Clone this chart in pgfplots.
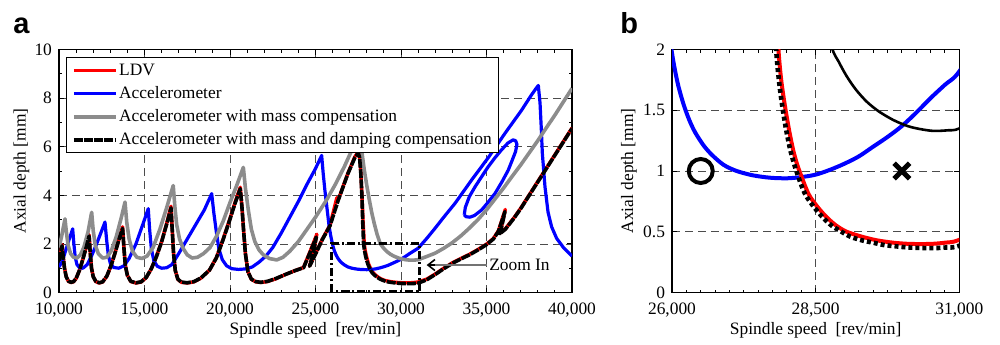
\documentclass[border=0pt]{standalone}
\usepackage{fontspec}
\setmainfont{Liberation Serif}
\newfontfamily\panelfont{Liberation Sans}
\usepackage{pgfplots}
\pgfplotsset{compat=1.18}
\usepackage{pgfplotstable}
\usetikzlibrary{arrows.meta}

\definecolor{cRed}{RGB}{255,0,0}
\definecolor{cBlue}{RGB}{0,0,255}
\definecolor{cGray}{RGB}{140,140,140}
\newcommand{\fs}{\fontsize{8.7}{10.4}\selectfont}

% Accelerometer with mass and damping compensation
\pgfplotstableread{
x y
10000 1.30
10080 1.60
10180 1.92
10240 1.50
10320 1.00
10420 0.65
10550 0.47
10700 0.42
10850 0.45
11000 0.58
11200 0.92
11400 1.38
11600 1.88
11760 2.32
11830 1.60
11900 1.00
12000 0.65
12150 0.46
12350 0.40
12550 0.44
12800 0.68
13050 1.12
13300 1.68
13550 2.28
13720 2.64
13800 1.80
13880 1.10
14000 0.70
14200 0.46
14500 0.40
14800 0.44
15100 0.62
15400 0.98
15700 1.48
16000 2.08
16300 2.82
16550 3.48
16620 2.60
16700 1.60
16800 0.90
16950 0.55
17150 0.43
17500 0.40
17900 0.45
18300 0.60
18800 0.92
19200 1.42
19600 2.18
20000 3.02
20300 3.68
20600 4.27
20700 3.50
20800 2.50
20900 1.60
21050 0.85
21250 0.55
21500 0.45
21800 0.42
22200 0.46
22700 0.58
23200 0.73
23800 0.90
24300 1.02
24700 1.68
25050 2.28
24850 1.55
24650 1.08
25000 1.58
25400 2.18
25850 2.75
26330 3.80
26900 4.90
27300 5.55
27500 5.74
27580 5.55
27650 4.90
27720 3.90
27760 2.90
27790 2.40
27810 2.02
27860 1.75
27920 1.53
27990 1.33
28060 1.17
28130 1.05
28200 0.95
28270 0.86
28340 0.79
28460 0.71
28620 0.62
28780 0.55
28950 0.50
29100 0.46
29300 0.43
29500 0.41
29700 0.39
29900 0.38
30140 0.37
30500 0.365
30750 0.37
31000 0.385
31500 0.52
32000 0.74
32500 0.98
33000 1.20
33500 1.38
34000 1.55
34500 1.75
35000 1.97
35400 2.20
35700 2.52
36080 3.33
35850 2.60
35780 2.42
36100 2.60
36600 3.05
37000 3.45
37500 4.00
38000 4.55
38500 5.10
39000 5.65
39500 6.20
40000 6.75
}\tblBlack

% LDV
\pgfplotstableread{
x y
10000 1.32
10080 1.62
10180 1.97
10240 1.52
10320 1.02
10420 0.66
10550 0.46
10700 0.41
10850 0.44
11000 0.57
11200 0.92
11400 1.38
11600 1.90
11760 2.38
11830 1.62
11900 1.02
12000 0.66
12150 0.45
12350 0.39
12550 0.43
12800 0.67
13050 1.12
13300 1.69
13550 2.30
13720 2.70
13800 1.82
13880 1.12
14000 0.71
14200 0.45
14500 0.39
14800 0.43
15100 0.61
15400 0.98
15700 1.49
16000 2.10
16300 2.85
16550 3.55
16620 2.62
16700 1.62
16800 0.91
16950 0.54
17150 0.42
17500 0.39
17900 0.44
18300 0.59
18800 0.92
19200 1.43
19600 2.20
20000 3.05
20300 3.72
20600 4.33
20700 3.52
20800 2.52
20900 1.62
21050 0.86
21250 0.54
21500 0.44
21800 0.41
22200 0.45
22700 0.57
23200 0.73
23800 0.90
24300 1.03
24700 1.72
25080 2.40
24850 1.57
24650 1.09
25000 1.60
25400 2.20
25850 2.78
26250 3.90
26330 3.82
26900 4.92
27300 5.58
27500 5.79
27580 5.60
27650 4.95
27720 3.95
27780 2.95
27820 2.45
27850 2.02
27900 1.75
27967 1.53
28040 1.33
28110 1.17
28180 1.05
28257 0.95
28330 0.86
28400 0.79
28540 0.70
28690 0.62
28860 0.55
29040 0.50
29300 0.46
29560 0.43
29850 0.41
30140 0.40
30500 0.40
30750 0.41
30980 0.43
31500 0.55
32000 0.76
32500 1.00
33000 1.22
33500 1.40
34000 1.57
34500 1.77
35000 1.99
35400 2.22
35700 2.55
36100 3.42
35850 2.62
35780 2.44
36100 2.62
36600 3.07
37000 3.47
37500 4.02
38000 4.57
38500 5.12
39000 5.67
39500 6.22
40000 6.77
}\tblRed

% Accelerometer
\pgfplotstableread{
x y
10000 1.05
10200 1.30
10400 1.75
10600 2.20
10800 2.62
10870 2.00
10950 1.45
11050 1.15
11200 1.02
11400 1.00
11650 1.15
11900 1.50
12200 2.00
12500 2.55
12690 2.90
12780 2.20
12880 1.55
13000 1.20
13200 1.03
13500 1.00
13800 1.10
14100 1.40
14500 2.00
14900 2.80
15220 3.45
15300 2.60
15400 1.80
15550 1.30
15750 1.08
16000 1.00
16300 1.02
16600 1.15
17000 1.60
17500 2.20
18000 2.80
18500 3.40
18930 4.07
19050 3.30
19200 2.50
19350 1.80
19550 1.35
19800 1.10
20100 0.98
20500 0.95
20900 0.97
21300 1.05
21700 1.25
22100 1.50
22500 1.85
23000 2.45
23500 3.10
24000 3.75
24500 4.45
25000 5.10
25360 5.64
25450 4.90
25550 4.20
25650 3.60
25800 2.70
25900 2.30
26010 1.94
26100 1.72
26200 1.55
26300 1.42
26400 1.32
26550 1.21
26700 1.13
26900 1.05
27125 1.00
27400 0.965
27700 0.945
28000 0.94
28250 0.95
28500 0.97
28750 1.01
29000 1.06
29250 1.12
29500 1.20
29750 1.28
30000 1.37
30250 1.48
30500 1.60
30750 1.71
31000 1.82
31500 2.22
32000 2.65
32500 3.10
33160 3.67
34130 4.63
35105 5.55
36080 6.55
37050 7.50
37600 8.10
37900 8.40
38030 8.52
38130 7.80
38200 6.80
38265 5.73
38420 4.35
38600 3.30
38810 2.70
39100 2.23
39500 1.85
40000 1.50
}\tblBlue

\pgfplotstableread{
x y
33700 3.20
33760 3.50
34000 3.95
34330 4.35
34700 4.75
35105 5.18
35500 5.55
35890 5.88
36250 6.15
36550 6.28
36700 6.25
36780 6.10
36700 5.80
36450 5.35
36275 5.04
35900 4.55
35500 4.08
35100 3.72
34720 3.40
34300 3.17
34035 3.10
33800 3.12
33700 3.20
}\tblBlueLoop

% Accelerometer with mass compensation
\pgfplotstableread{
x y
10000 1.85
10150 2.30
10350 3.03
10430 2.50
10530 1.95
10680 1.60
10850 1.45
11050 1.42
11250 1.55
11450 1.85
11700 2.50
11910 3.30
12000 2.55
12120 1.95
12300 1.60
12550 1.42
12800 1.45
13050 1.70
13350 2.30
13650 3.10
13860 3.72
13960 2.90
14100 2.20
14300 1.70
14550 1.45
14850 1.40
15150 1.50
15500 1.85
15900 2.60
16300 3.50
16680 4.40
16780 3.50
16880 2.80
17050 2.20
17270 1.80
17500 1.55
17780 1.42
18100 1.45
18450 1.60
18830 1.85
19200 2.30
19610 2.95
20000 3.70
20390 4.40
20780 5.15
20900 4.30
21070 3.40
21250 2.60
21450 2.10
21700 1.75
21950 1.55
22300 1.40
22730 1.34
23100 1.45
23500 1.70
24000 2.10
24500 2.60
25000 3.10
25650 3.81
26200 4.50
26700 5.20
27150 5.90
27450 6.50
27600 6.90
27700 5.85
27850 5.05
28000 4.40
28150 3.80
28300 3.25
28450 2.80
28600 2.40
28780 2.02
28900 1.90
29040 1.78
29200 1.67
29390 1.57
29600 1.49
29850 1.42
30100 1.37
30320 1.345
30550 1.33
30800 1.335
31000 1.35
31500 1.48
32000 1.62
32500 1.82
33000 2.05
33500 2.33
34000 2.65
34500 3.00
35000 3.40
35500 3.85
36000 4.30
36500 4.78
37000 5.25
37500 5.75
38000 6.25
38500 6.78
39000 7.30
39500 7.85
40000 8.40
}\tblGray

\pgfplotsset{
  myaxis/.style={
    scale only axis,
    axis line style={line width=0.6pt},
    every tick/.style={black, line width=0.5pt},
    major tick length=2.5pt, minor tick length=1.5pt,
    grid=major,
    major grid style={dash pattern=on 4pt off 2.5pt, black!70, line width=0.4pt},
    scaled x ticks=false, scaled y ticks=false,
    /pgf/number format/assume math mode=true,
    /pgf/number format/1000 sep={,},
    tick label style={font=\fs},
    label style={font=\fs},
    xticklabel style={anchor=base, yshift=-11.2pt},
    xlabel style={at={([yshift=-18.75pt]axis description cs:0.5,0)}, anchor=center},
  }
}

\begin{document}
\begin{tikzpicture}[x=1pt,y=1pt]
\useasboundingbox (0,0) rectangle (500,172);

\begin{axis}[myaxis,
  at={(29.5pt,25.75pt)}, anchor=south west,
  width=256.5pt, height=121.5pt,
  xmin=10000, xmax=40000, ymin=0, ymax=10,
  xtick={10000,15000,20000,25000,30000,35000,40000},
  ytick={0,2,4,6,8,10},
  minor x tick num=4, minor y tick num=1,
  xlabel={Spindle speed\ \ [rev/min]},
  ylabel={Axial depth [mm]},
  ylabel style={at={([xshift=-18.75pt]axis description cs:0,0.5)}, anchor=center},
  legend cell align=left,
  legend image code/.code={\draw[#1] (0pt,0pt) -- (21pt,0pt);},
  legend style={at={(axis description cs:0.0136,0.969)}, anchor=north west,
    draw=black, line width=0.6pt, fill=white, font=\fs,
    inner xsep=2.7pt, inner ysep=0.8pt, row sep=0pt,
    nodes={inner xsep=0.8pt, inner ysep=1.6pt, text height=6.3pt, text depth=2pt}},
]
\addplot[cRed, line width=1.7pt, line join=round] table[x=x,y=y] {\tblRed};
\addlegendentry{LDV}
\addplot[cBlue, line width=1.6pt, line join=round] table[x=x,y=y] {\tblBlue};
\addlegendentry{Accelerometer}
\addplot[forget plot, cBlue, line width=1.6pt, line join=round] table[x=x,y=y] {\tblBlueLoop};
\addplot[cGray, line width=1.8pt, line join=round] table[x=x,y=y] {\tblGray};
\addlegendentry{Accelerometer with mass compensation}
\addplot[black, line width=1.8pt, line join=round, dash pattern=on 4.5pt off 0.6pt] table[x=x,y=y] {\tblBlack};
\addlegendentry{Accelerometer with mass and damping compensation}
\addplot[forget plot, black, line width=1.5pt, dash pattern=on 4pt off 1.5pt on 1pt off 1.5pt]
  coordinates {(25950,0.03) (25950,2.02) (31100,2.02) (31100,0.03) (25950,0.03)};
\draw[black!55, line width=0.6pt] (axis cs:35030,1.13) -- (axis cs:31700,1.13);
\draw[-{Straight Barb[length=3.5pt,width=5.5pt]}, black, line width=0.8pt] (axis cs:32000,1.13) -- (axis cs:31500,1.13);
\node[anchor=west, inner sep=0.5pt, font=\fs] at (axis cs:35080,1.13) {Zoom In};
\end{axis}

\begin{axis}[myaxis,
  at={(336pt,25.75pt)}, anchor=south west,
  width=143.65pt, height=121.5pt,
  xmin=26000, xmax=31000, ymin=0, ymax=2,
  xtick={26000,28500,31000},
  ytick={0,0.5,1,1.5,2},
  minor x tick num=9,
  xlabel={Spindle speed\ \ [rev/min]},
  ylabel={Axial depth [mm]},
  ylabel style={at={([xshift=-21.5pt]axis description cs:0,0.5)}, anchor=center},
]
\addplot[cBlue, line width=2pt, smooth, tension=0.5] table[x=x,y=y] {\tblBlue};
\addplot[black, line width=1.3pt, smooth, tension=0.5] table[x=x,y=y] {\tblGray};
\addplot[cRed, line width=2pt, smooth, tension=0.5] table[x=x,y=y] {\tblRed};
\addplot[black, line width=2.3pt, smooth, tension=0.5, dash pattern=on 2pt off 1.5pt] table[x=x,y=y] {\tblBlack};
\addplot[only marks, mark=o, mark size=6pt, line width=2pt, black] coordinates {(26500,1)};
\addplot[only marks, mark=x, mark size=5.5pt, line width=2.5pt, black] coordinates {(30000,1)};
\end{axis}

\node[anchor=base west, inner sep=0pt, font={\panelfont\fontsize{14.5}{16}\selectfont\bfseries}] at (6.5,155.5) {a};
\node[anchor=base west, inner sep=0pt, font={\panelfont\fontsize{14.5}{16}\selectfont\bfseries}] at (310,155.5) {b};
\end{tikzpicture}
\end{document}
